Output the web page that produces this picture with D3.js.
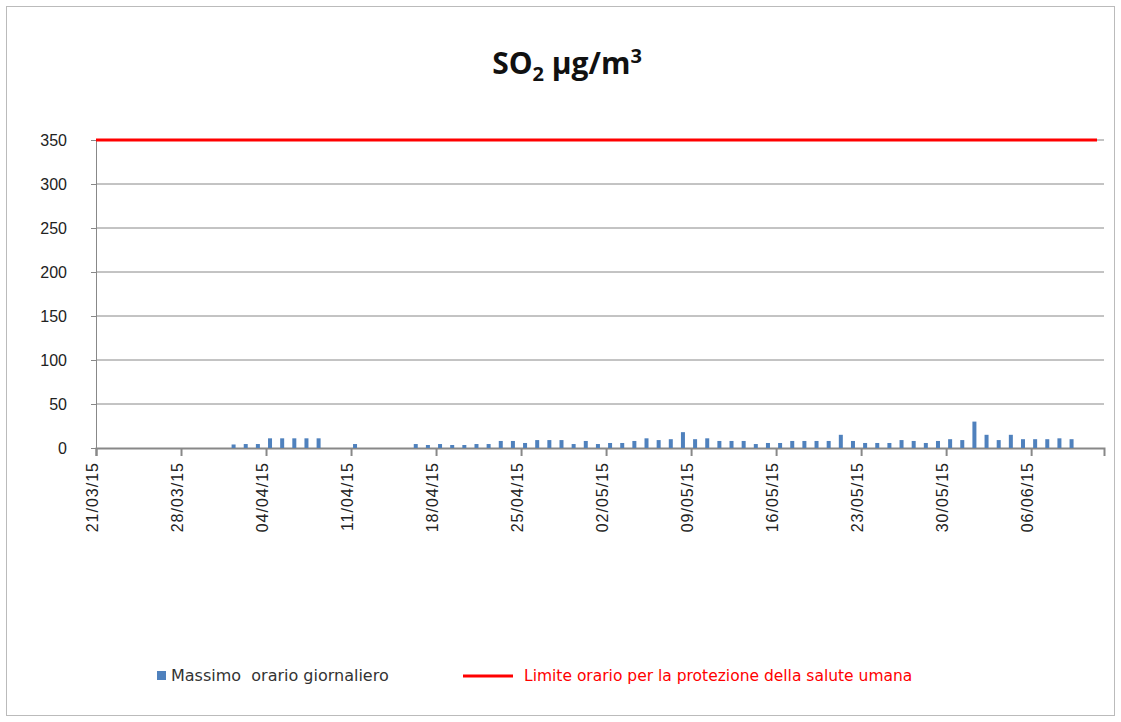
<!DOCTYPE html>
<html><head><meta charset="utf-8">
<script src="https://cdn.jsdelivr.net/npm/d3@7"></script>
<style>body{margin:0;background:#fff;font-family:"DejaVu Sans",sans-serif}</style>
</head><body><svg id="c" width="1121" height="722"></svg>
<script>
// days after 21/03/15 and daily max hourly value
var days = [11,12,13,14,15,16,17,18,21,26,27,28,29,30,31,32,33,34,35,36,37,38,39,40,41,42,43,44,45,46,47,48,49,50,51,52,53,54,55,56,57,58,59,60,61,62,63,64,65,66,67,68,69,70,71,72,73,74,75,76,77,78,79,80];
var values = [4,4.5,4.5,11,11,11,11,11,4.5,4.5,3.4,4.5,3.4,3.4,4.5,4.5,8,8,5.7,9,9,9,4.5,8,4.5,5.7,5.7,8,11,9,10,18,10,11,8,8,8,4.5,5.7,5.7,8,8,8,8,15,8,5.7,5.7,5.7,9,8,5.7,8,10,9,30,15,9,15,10,10,10,11,10];
var yTicks = [0,50,100,150,200,250,300,350];
var limit = 350;
var start = new Date(2015,2,21);

var svg = d3.select("#c");
svg.append("rect").attr("x",6.5).attr("y",6.5).attr("width",1108).attr("height",709)
  .attr("fill","none").attr("stroke","#bbb");

var x = d3.scaleTime().domain([start, d3.timeDay.offset(start,83.5)]).range([96,1104]);
var y = d3.scaleLinear().domain([0,350]).range([448,140]);

// grid
svg.append("g").selectAll("line").data(yTicks.slice(1)).join("line")
  .attr("x1",96).attr("x2",1104).attr("y1",d=>y(d)).attr("y2",d=>y(d))
  .attr("stroke","#888").attr("stroke-width",1);

var ya = svg.append("g").attr("transform","translate(96,0)")
  .call(d3.axisLeft(y).tickValues(yTicks).tickSize(5).tickPadding(24));
ya.select(".domain").attr("stroke","#888");
ya.selectAll("line").attr("stroke","#888");
ya.selectAll("text").attr("font-size",16).attr("fill","#222");

var xt = d3.range(0,78,7).map(d=>d3.timeDay.offset(start,d));
var xa = svg.append("g").attr("transform","translate(0,448)")
  .call(d3.axisBottom(x).tickValues(xt).tickSize(8).tickFormat(d3.timeFormat("%d/%m/%y")));
xa.select(".domain").attr("stroke","#888").attr("stroke-width",2);
xa.selectAll("line").attr("stroke","#888").attr("stroke-width",2);
xa.selectAll("text").attr("font-size",16).attr("fill","#222").attr("letter-spacing",1)
  .attr("transform","rotate(-90)").attr("text-anchor","end")
  .attr("x",-14).attr("y",-4).attr("dy","0.35em");

svg.append("g").selectAll("rect").data(days).join("rect")
  .attr("x",(d)=>x(d3.timeDay.offset(start,d))+2).attr("width",4)
  .attr("y",(d,i)=>y(values[i])).attr("height",(d,i)=>448-y(values[i]))
  .attr("fill","#4f81bd");

svg.append("line").attr("x1",x(d3.timeDay.offset(start,0.2))).attr("x2",1097)
  .attr("y1",y(limit)).attr("y2",y(limit)).attr("stroke","#f00").attr("stroke-width",3);

var t = svg.append("text").attr("x",567).attr("y",74).attr("text-anchor","middle")
  .attr("font-family","'Open Sans',sans-serif")
  .attr("font-size",30).attr("font-weight","bold").attr("fill","#111");
t.append("tspan").text("SO");
t.append("tspan").text("2").attr("font-size",20).attr("dy",7);
t.append("tspan").text(" µg/m").attr("dy",-7);
t.append("tspan").text("3").attr("font-size",20).attr("dy",-11);

svg.append("rect").attr("x",157).attr("y",671).attr("width",9).attr("height",9).attr("fill","#4f81bd");
svg.append("text").attr("x",171).attr("y",681).attr("font-size",16).attr("fill","#333").style("white-space","pre").text("Massimo  orario giornaliero");
svg.append("line").attr("x1",463).attr("x2",513).attr("y1",676).attr("y2",676).attr("stroke","#f00").attr("stroke-width",3);
svg.append("text").attr("x",524).attr("y",681).attr("font-size",15.5).attr("fill","#f00").text("Limite orario per la protezione della salute umana");
</script></body></html>
